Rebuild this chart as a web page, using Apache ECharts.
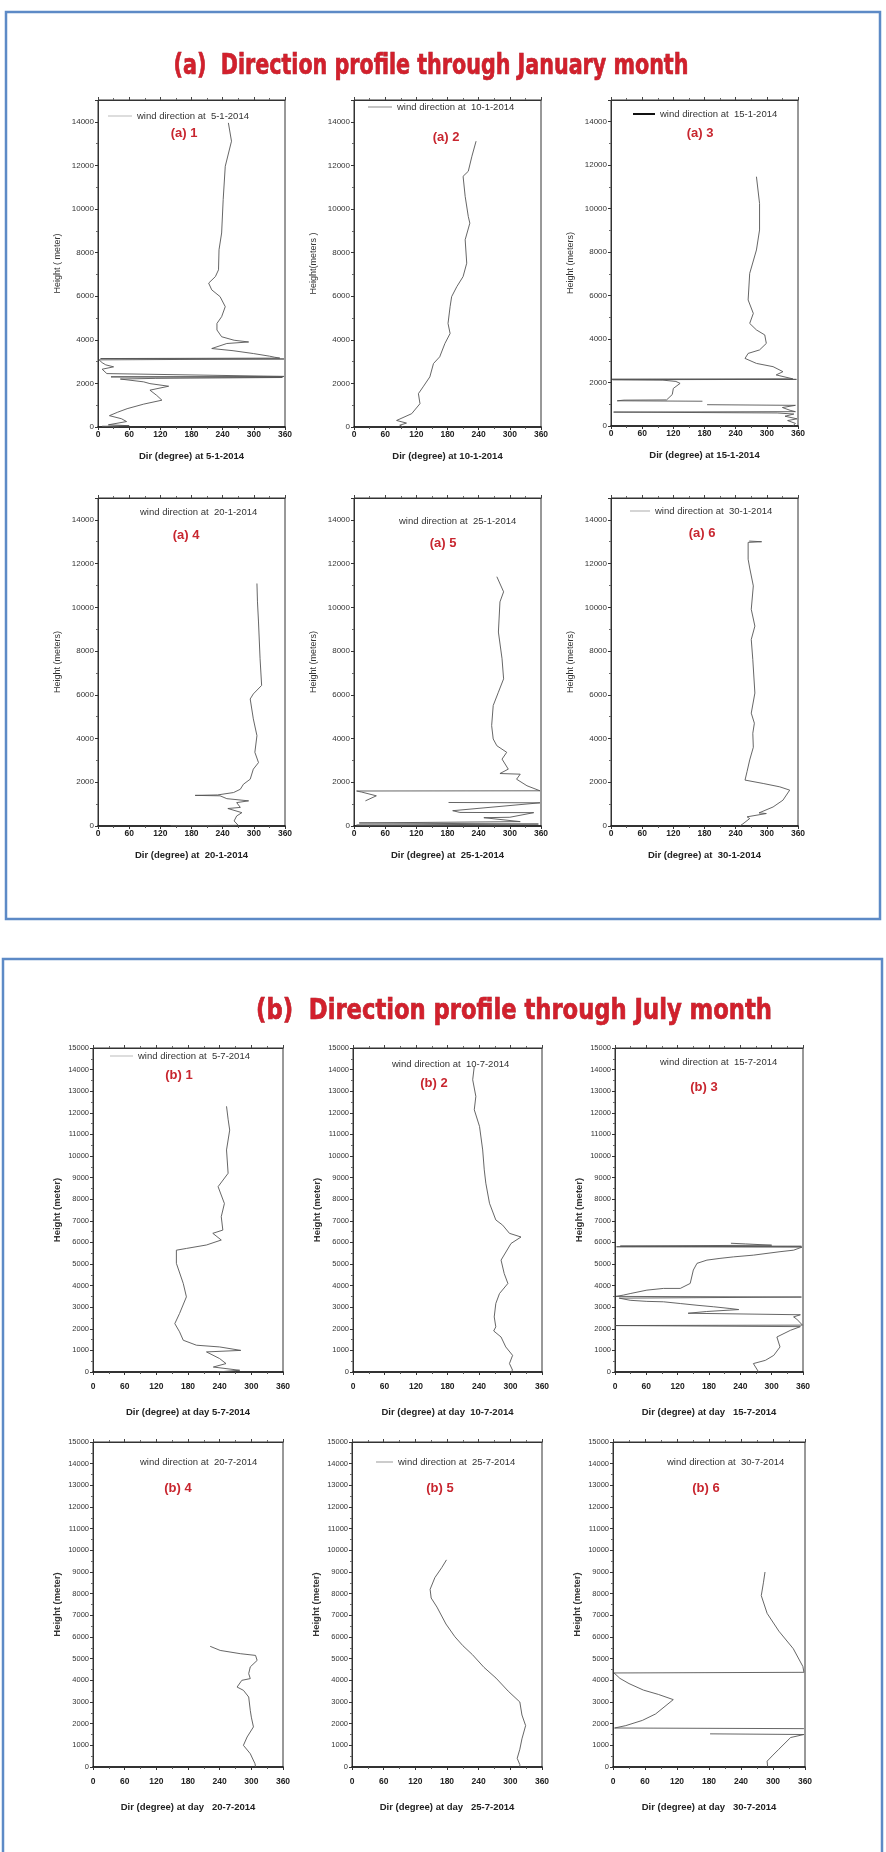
<!DOCTYPE html>
<html><head><meta charset="utf-8">
<script src="https://cdn.jsdelivr.net/npm/echarts@6/dist/echarts.min.js"></script>
<style>html,body{margin:0;padding:0;background:#fff}#c{width:886px;height:1852px}</style>
</head><body><div id="c"></div>
<script>
// ---------- DATA: [direction (deg), height (m)] ----------
const jan05 = [[40,0],[8,30],[60,60],[20,100],[55,250],[45,380],[22,520],[38,680],[56,840],[88,1050],[123,1230],[113,1450],[100,1690],[136,1870],[100,1990],[88,2070],[43,2200],[110,2230],[355,2270],[25,2300],[358,2320],[17,2450],[8,2650],[30,2760],[15,2850],[8,2950],[2,3080],[358,3120],[5,3140],[350,3160],[340,3200],[330,3250],[299,3370],[260,3500],[219,3600],[248,3830],[290,3900],[262,3980],[238,4140],[229,4450],[229,4750],[238,5060],[245,5520],[235,5980],[219,6290],[213,6600],[226,6900],[232,7210],[233,8130],[238,8900],[241,10430],[245,11960],[257,13110],[251,13950]];
const jan10 = [[95,0],[88,80],[101,180],[82,300],[111,610],[127,1070],[124,1530],[133,1840],[146,2300],[153,2910],[165,3220],[175,3830],[185,4290],[181,4750],[185,5520],[188,5980],[198,6440],[210,6900],[217,7515],[214,8590],[223,9350],[220,9660],[214,10580],[210,11500],[220,11730],[227,12420],[235,13110]];
const jan15 = [[350,0],[355,120],[340,250],[358,330],[335,450],[352,550],[320,600],[5,640],[355,660],[345,720],[330,850],[355,950],[185,980],['-','-'],[176,1140],[12,1160],[10,1180],[25,1190],[107,1200],[118,1450],[120,1730],[133,1960],[125,2050],[100,2110],[3,2130],[357,2145],[2,2150],[350,2170],[318,2350],[331,2500],[312,2730],[280,2880],[258,3110],[264,3340],[286,3500],[299,3800],[296,4190],[280,4420],[267,4720],[274,5180],[264,5800],[267,7020],[280,8100],[286,9020],[286,10240],[280,11470]];
const jan20 = [[265,0],[140,15],[270,30],[262,230],[267,460],[277,610],[250,800],[274,850],[267,1070],[290,1150],[248,1250],[235,1380],[187,1400],[230,1420],[261,1530],[274,1680],[280,1910],[293,2140],[299,2600],[309,2900],[302,3370],[306,4130],[299,4900],[293,5810],[299,6040],[315,6430],[312,7650],[309,9330],[307,10250],[306,11090]];
const jan25 = [[300,0],[5,40],[355,90],[10,140],[320,200],[250,380],[300,400],[346,610],[204,620],[190,700],[358,1060],[182,1075],['-','-'],[22,1150],[43,1380],[15,1550],[5,1600],[358,1610],[333,1840],[313,2140],[320,2370],[281,2400],[297,2600],[285,3060],[294,3370],[275,3670],[268,3980],[265,4590],[268,5510],[278,6120],[288,6730],[285,7650],[278,8870],[281,10250],[288,10710],[275,11400]];
const jan30 = [[248,0],[254,100],[267,340],[262,420],[299,570],[285,600],[312,870],[331,1180],[344,1640],[325,1790],[293,1945],[258,2100],[262,2500],[267,3020],[274,3600],[273,4240],[276,4700],[270,5160],[277,6080],[273,7610],[270,8530],[277,9140],[270,9910],[274,10980],[267,11800],[264,12200],[264,12970],[290,13000],[266,13030]];
const jul05 = [[235,0],[278,80],[228,230],[252,390],[240,620],[215,930],[280,1000],[240,1160],[196,1240],[171,1470],[164,1860],[155,2240],[164,2710],[177,3480],[171,4100],[158,5030],[158,5640],[177,5720],[215,5880],[243,6110],[227,6420],[246,6570],[243,7190],[249,7800],[237,8580],[256,9200],[253,10280],[259,11200],[256,11700],[253,12300]];
const jul10 = [[300,0],[304,80],[298,390],[304,770],[291,1160],[282,1620],[268,1900],[272,2090],[269,2550],[272,3170],[279,3630],[295,4100],[288,4560],[282,5180],[301,5950],[320,6250],[298,6420],[285,6800],[272,7040],[260,7810],[253,8740],[250,9360],[247,10280],[241,11370],[231,12140],[234,12760],[228,13530],[231,14150]];
const jul15 = [[275,0],[278,80],[265,390],[288,540],[304,770],[316,1160],[310,1620],[336,1930],[355,2100],[1,2150],[359,2170],[348,2450],[342,2550],[355,2650],[140,2720],[175,2800],[237,2890],[220,2940],[189,3020],[157,3090],[125,3170],[93,3250],[61,3270],[29,3320],[8,3420],[357,3470],[2,3500],[16,3560],[29,3630],[61,3790],[93,3870],[125,3870],[144,4100],[150,4720],[157,5030],[176,5180],[201,5260],[227,5330],[265,5410],[316,5570],[342,5640],[358,5780],[3,5800],[357,5820],[10,5830],[300,5870],[250,5930],[222,5960]];
const jul20 = [[308,0],[307,150],[298,615],[285,1000],[292,1385],[304,1850],[300,2300],[298,2615],[295,3230],[285,3540],[273,3690],[282,4000],[298,4080],[295,4310],[298,4620],[311,4920],[308,5150],[279,5230],[241,5380],[222,5570]];
const jul25 = [[318,0],[318,110],[313,400],[318,820],[322,1300],[329,1910],[322,2400],[318,3000],[296,3500],[273,4100],[250,4600],[228,5190],[210,5600],[195,6010],[178,6600],[161,7380],[150,7800],[148,8200],[157,8740],[170,9200],[179,9560]];
const jul30 = [[290,0],[289,270],[300,550],[311,820],[333,1360],[358,1500],[182,1530],['-','-'],[358,1770],[3,1800],[24,1910],[55,2150],[80,2450],[113,3110],[85,3350],[57,3550],[30,3850],[13,4090],[2,4340],[358,4370],[356,4640],[338,5460],[311,6270],[289,7090],[278,7910],[282,8500],[285,9000]];

const seriesData = [jan05, jan10, jan15, jan20, jan25, jan30, jul05, jul10, jul15, jul20, jul25, jul30];
const legendTexts = ['wind direction at  5-1-2014','wind direction at  10-1-2014','wind direction at  15-1-2014','wind direction at  20-1-2014','wind direction at  25-1-2014','wind direction at  30-1-2014','wind direction at  5-7-2014','wind direction at  10-7-2014','wind direction at  15-7-2014','wind direction at  20-7-2014','wind direction at  25-7-2014','wind direction at  30-7-2014'];
const panelTags = ['(a) 1','(a) 2','(a) 3','(a) 4','(a) 5','(a) 6','(b) 1','(b) 2','(b) 3','(b) 4','(b) 5','(b) 6'];
const xNames = ['Dir (degree) at 5-1-2014','Dir (degree) at 10-1-2014','Dir (degree) at 15-1-2014','Dir (degree) at  20-1-2014','Dir (degree) at  25-1-2014','Dir (degree) at  30-1-2014','Dir (degree) at day 5-7-2014','Dir (degree) at day  10-7-2014','Dir (degree) at day   15-7-2014','Dir (degree) at day   20-7-2014','Dir (degree) at day   25-7-2014','Dir (degree) at day   30-7-2014'];
const yNames = ['Height ( meter)','Height(meters )','Height (meters)','Height (meters)','Height (meters)','Height (meters)','Height (meter)','Height (meter)','Height (meter)','Height (meter)','Height (meter)','Height (meter)'];
const titles = ['(a)  Direction profile through January month', '(b)  Direction profile through July month'];

// ---------- LAYOUT ----------
const boxes = [
  [98,100,187,327],[354,100,187,327],[611,100,187,326],
  [98,498,187,328],[354,498,187,328],[611,498,187,328],
  [93,1048,190,324],[353,1048,189,324],[615,1048,188,324],
  [93,1442,190,325],[352,1442,190,325],[613,1442,192,325]
];
// legend: [left, centerY, sampleWidth, sampleHeight, sampleColor]
const legendPos = [
  [108,117,24,1,'#bbb'],[368,108,24,1,'#888'],[633,115,22,2,'#111'],
  [135,513,0,1,'#fff'],[394,522,0,1,'#fff'],[630,512,20,1,'#aaa'],
  [110,1057,23,1,'#bbb'],[387,1065,0,1,'#fff'],[655,1063,0,1,'#fff'],
  [135,1463,0,1,'#fff'],[376,1463,17,1,'#999'],[662,1463,0,1,'#fff']
];
const tagPos = [[184,133],[446,137],[700,133],[186,535],[443,543],[702,533],[179,1075],[434,1083],[704,1087],[178,1488],[440,1488],[706,1488]];

const FONT = "'Liberation Sans', Arial, sans-serif";
const option = {animation:false, backgroundColor:'#fff', grid:[], xAxis:[], yAxis:[], series:[], legend:[], graphic:[]};

seriesData.forEach((data, i) => {
  const [l,t,w,h] = boxes[i];
  const isA = i < 6;
  option.grid.push({left:l, top:t, width:w, height:h, show:true, borderColor:'#333', borderWidth:1, backgroundColor:'transparent'});
  option.xAxis.push({
    gridIndex:i, type:'value', min:0, max:360, interval:60, position:'bottom',
    name:xNames[i], nameLocation:'middle', nameGap:isA?24:35,
    nameTextStyle:{fontFamily:FONT, fontSize:9.5, fontWeight:'bold', color:'#222'},
    axisLine:{show:true, onZero:false, lineStyle:{color:'#111', width:1.6}},
    axisTick:{show:true, inside:false, length:3, lineStyle:{color:'#333'}},
    minorTick:{show:true, splitNumber:2, length:2, lineStyle:{color:'#555'}},
    axisLabel:{fontFamily:FONT, fontSize:8.5, fontWeight:'bold', color:'#222', margin:isA?3:10},
    splitLine:{show:false}
  });
  option.xAxis.push({
    gridIndex:i, type:'value', min:0, max:360, interval:60, position:'top',
    axisLine:{show:true, onZero:false, lineStyle:{color:'#333', width:1}},
    axisTick:{show:true, inside:false, length:3, lineStyle:{color:'#444'}},
    minorTick:{show:true, splitNumber:2, length:2, lineStyle:{color:'#666'}},
    axisLabel:{show:false}, splitLine:{show:false}
  });
  option.yAxis.push({
    gridIndex:i, type:'value', min:0, max:15000, interval:isA?2000:1000,
    name:yNames[i], nameLocation:'middle', nameGap:isA?36:31,
    nameTextStyle:{fontFamily:FONT, fontSize:isA?9:9.5, fontWeight:isA?'normal':'bold', color:'#333'},
    axisLine:{show:true, lineStyle:{color:'#333', width:1}},
    axisTick:{show:true, inside:false, length:3, lineStyle:{color:'#333'}},
    minorTick:{show:true, splitNumber:2, length:2, lineStyle:{color:'#666'}},
    axisLabel:{fontFamily:FONT, fontSize:isA?8:7.5, color:'#333', margin:4, showMaxLabel:!isA, formatter:v => String(v)},
    splitLine:{show:false}
  });
  option.series.push({
    type:'line', name:legendTexts[i], xAxisIndex:2*i, yAxisIndex:i, data:data,
    symbol:'none', showSymbol:false, connectNulls:false, clip:true,
    lineStyle:{color:'#555', width:0.9}
  });
  const [lx, ly, sw, sh, sc] = legendPos[i];
  option.legend.push({
    data:[legendTexts[i]], left:lx, top:ly-6, icon:'rect', itemWidth:sw, itemHeight:sh,
    padding:0, selectedMode:false, itemStyle:{color:sc, borderWidth:0},
    textStyle:{fontFamily:FONT, fontSize:9.5, color:'#333'}
  });
  const [tx, ty] = tagPos[i];
  option.graphic.push({type:'text', x:tx, y:ty, z:100, style:{text:panelTags[i], font:"bold 13px " + FONT, fill:'#c8262f', textAlign:'center', textVerticalAlign:'middle'}});
});

const TITLE_FONT = "bold 28px 'Liberation Sans Narrow', 'Arial Narrow', 'DejaVu Sans Condensed', 'Liberation Sans', sans-serif";
option.graphic.push(
  {type:'rect', z:0, shape:{x:6, y:12, width:874, height:907}, style:{fill:'none', stroke:'#5d8ac6', lineWidth:2.5}},
  {type:'rect', z:0, shape:{x:3, y:959, width:879, height:910}, style:{fill:'none', stroke:'#5d8ac6', lineWidth:2.5}},
  {type:'text', x:431, y:67, scaleX:0.82, z:100, style:{text:titles[0], font:TITLE_FONT, fill:'#d2202c', stroke:'#9c1520', lineWidth:0.6, textAlign:'center', textVerticalAlign:'middle'}},
  {type:'text', x:514, y:1012, scaleX:0.9, z:100, style:{text:titles[1], font:TITLE_FONT, fill:'#d2202c', stroke:'#9c1520', lineWidth:0.6, textAlign:'center', textVerticalAlign:'middle'}}
);

const chart = echarts.init(document.getElementById('c'), null, {renderer:'canvas'});
chart.setOption(option);
</script>
</body></html>
